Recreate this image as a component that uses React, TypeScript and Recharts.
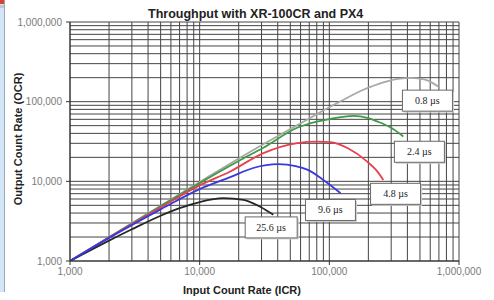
import React from "react";
import {
  LineChart,
  Line,
  XAxis,
  YAxis,
  CartesianGrid,
  ReferenceDot,
} from "recharts";

// ---- tick labels (decades) ----
const decadeTicks = [1000, 10000, 100000, 1000000];
const gridMultipliers = [1, 2, 3, 4, 5, 6, 7, 8, 9];

// ---- series values: [ICR, OCR] ----
const icr08 = [1000, 2000, 5000, 10000, 20000, 30000, 50000, 70000, 100000, 122000, 183000, 261000, 350000, 422000, 500000, 571000, 692000];
const ocr08 = [1000, 1990, 4950, 9800, 19300, 28400, 45500, 61500, 85000, 101000, 141000, 175000, 195000, 199000, 195000, 185000, 155000];

const icr24 = [1000, 2000, 5000, 10000, 20000, 31000, 56600, 80000, 102000, 153000, 200000, 234000, 300000, 372000];
const ocr24 = [1000, 1980, 4870, 9500, 18000, 26400, 47000, 56000, 61000, 66500, 62000, 56500, 47000, 36600];

const icr48 = [1000, 2000, 5000, 10000, 17200, 31000, 56600, 80000, 102000, 138000, 196000, 230000, 261000];
const ocr48 = [1000, 1975, 4700, 8900, 13300, 22600, 30200, 31500, 31100, 26200, 17700, 13800, 10400];

const icr96 = [1000, 2000, 5000, 10000, 17200, 25900, 40400, 55000, 67600, 90000, 122000];
const ocr96 = [1000, 1950, 4450, 8000, 11300, 14700, 16400, 15500, 14000, 10400, 7100];

const icr256 = [1000, 2000, 3000, 5000, 7000, 10000, 15200, 21700, 29300, 37000];
const ocr256 = [1000, 1800, 2500, 3700, 4600, 5500, 6150, 5850, 4800, 3800];

// ---- label boxes: text and anchor (ICR, OCR) ----
const labelTexts = ["0.8 µs", "2.4 µs", "4.8 µs", "9.6 µs", "25.6 µs"];
const labelIcr = [571000, 495000, 324000, 102000, 35600];
const labelOcr = [103000, 23500, 6970, 4370, 2640];

const toPoints = (xs: number[], ys: number[]) => xs.map((x, i) => ({ x, y: ys[i] }));

const series = [
  { name: "0.8 µs", data: toPoints(icr08, ocr08), color: "#a8a8a8" },
  { name: "2.4 µs", data: toPoints(icr24, ocr24), color: "#3f9a44" },
  { name: "4.8 µs", data: toPoints(icr48, ocr48), color: "#e8404f" },
  { name: "25.6 µs", data: toPoints(icr256, ocr256), color: "#262626" },
  { name: "9.6 µs", data: toPoints(icr96, ocr96), color: "#3838e0" },
];

const gridTicks: number[] = [];
decadeTicks.forEach((d, i) => {
  if (i === decadeTicks.length - 1) {
    gridTicks.push(d);
  } else {
    gridMultipliers.forEach((m) => gridTicks.push(d * m));
  }
});

const fmt = (v: number) => v.toLocaleString("en-US");
const FONT = "'Liberation Sans', Arial, sans-serif";

const YTick = (props: any) => {
  const { x, y, payload } = props;
  if (!decadeTicks.includes(payload.value)) return <g />;
  return (
    <g>
      <line x1={x + 4} x2={x + 8} y1={y} y2={y} stroke="#333" strokeWidth={1} />
      <text x={x} y={y} dy="0.355em" textAnchor="end" fontSize={10} fill="#7a7a7a" fontFamily={FONT}>
        {fmt(payload.value)}
      </text>
    </g>
  );
};

const XTick = (props: any) => {
  const { x, y, payload } = props;
  if (!decadeTicks.includes(payload.value)) return <g />;
  return (
    <g>
      <line x1={x} x2={x} y1={y - 7} y2={y - 3} stroke="#333" strokeWidth={1} />
      <text x={x} y={y} dy="0.71em" textAnchor="middle" fontSize={10} fill="#7a7a7a" fontFamily={FONT}>
        {fmt(payload.value)}
      </text>
    </g>
  );
};

const makeBox = (text: string) => (props: any) => {
  const { cx, cy } = props;
  const w = text.length > 6 ? 52 : 50;
  const h = 21;
  return (
    <g>
      <rect x={cx - w / 2 + 1.5} y={cy - h / 2 + 1.5} width={w} height={h} fill="#cfcfcf" />
      <rect x={cx - w / 2} y={cy - h / 2} width={w} height={h} fill="#ffffff" stroke="#6a6a6a" strokeWidth={1} />
      <text x={cx} y={cy} dy="0.35em" textAnchor="middle" fontSize={10} fill="#222" fontFamily="'Liberation Serif', 'Times New Roman', serif">
        {text}
      </text>
    </g>
  );
};

export default function App() {
  return (
    <div style={{ position: "absolute", left: 0, top: 0, width: 494, height: 300, background: "#fff", overflow: "hidden" }}>
      {/* window edge strip */}
      <div style={{ position: "absolute", left: 0, top: 0, width: 4, height: 292, background: "#d3e6f8", borderRight: "1px solid #9aa8b8" }} />
      <div style={{ position: "absolute", left: 0, top: 0, width: 4, height: 4, background: "#d8413a" }} />
      <div style={{ position: "absolute", left: 0, top: 5, width: 4, height: 3, background: "#c8c8c8" }} />

      <LineChart width={494} height={300} margin={{ top: 22, right: 35, bottom: 9, left: 0 }} style={{ position: "absolute", left: 0, top: 0 }}>
        <CartesianGrid stroke="#454545" strokeWidth={1} />
        <XAxis
          dataKey="x"
          type="number"
          scale="log"
          domain={[1000, 1000000]}
          allowDataOverflow
          ticks={gridTicks}
          interval={0}
          tick={<XTick />}
          tickLine={false}
          tickSize={4}
          tickMargin={3}
          height={30}
          axisLine={{ stroke: "#333" }}
        />
        <YAxis
          dataKey="y"
          type="number"
          scale="log"
          domain={[1000, 1000000]}
          allowDataOverflow
          ticks={gridTicks}
          interval={0}
          tick={<YTick />}
          tickLine={false}
          tickSize={4}
          tickMargin={4}
          width={70}
          axisLine={{ stroke: "#333" }}
        />
        {series.map((s) => (
          <Line
            key={s.name}
            data={s.data}
            dataKey="y"
            type="monotone"
            stroke={s.color}
            strokeWidth={1.8}
            dot={false}
            activeDot={false}
            isAnimationActive={false}
          />
        ))}
        {labelTexts.map((t, i) => (
          <ReferenceDot key={t} x={labelIcr[i]} y={labelOcr[i]} r={0} shape={makeBox(t)} />
        ))}
      </LineChart>

      <div style={{ position: "absolute", left: 148, top: 7, width: 200, textAlign: "center", whiteSpace: "nowrap", fontFamily: FONT, fontWeight: "bold", fontSize: 12.5, color: "#222" }}>
        Throughput with XR-100CR and PX4
      </div>
      <div style={{ position: "absolute", left: 142, top: 284, width: 200, textAlign: "center", whiteSpace: "nowrap", fontFamily: FONT, fontWeight: "bold", fontSize: 11, color: "#222" }}>
        Input Count Rate (ICR)
      </div>
      <div style={{ position: "absolute", left: 18, top: 139, width: 0, height: 0 }}>
        <div style={{ position: "absolute", left: 0, top: 0, transform: "translate(-50%, -50%) rotate(-90deg)", whiteSpace: "nowrap", fontFamily: FONT, fontWeight: "bold", fontSize: 11, color: "#222" }}>
          Output Count Rate (OCR)
        </div>
      </div>
    </div>
  );
}
